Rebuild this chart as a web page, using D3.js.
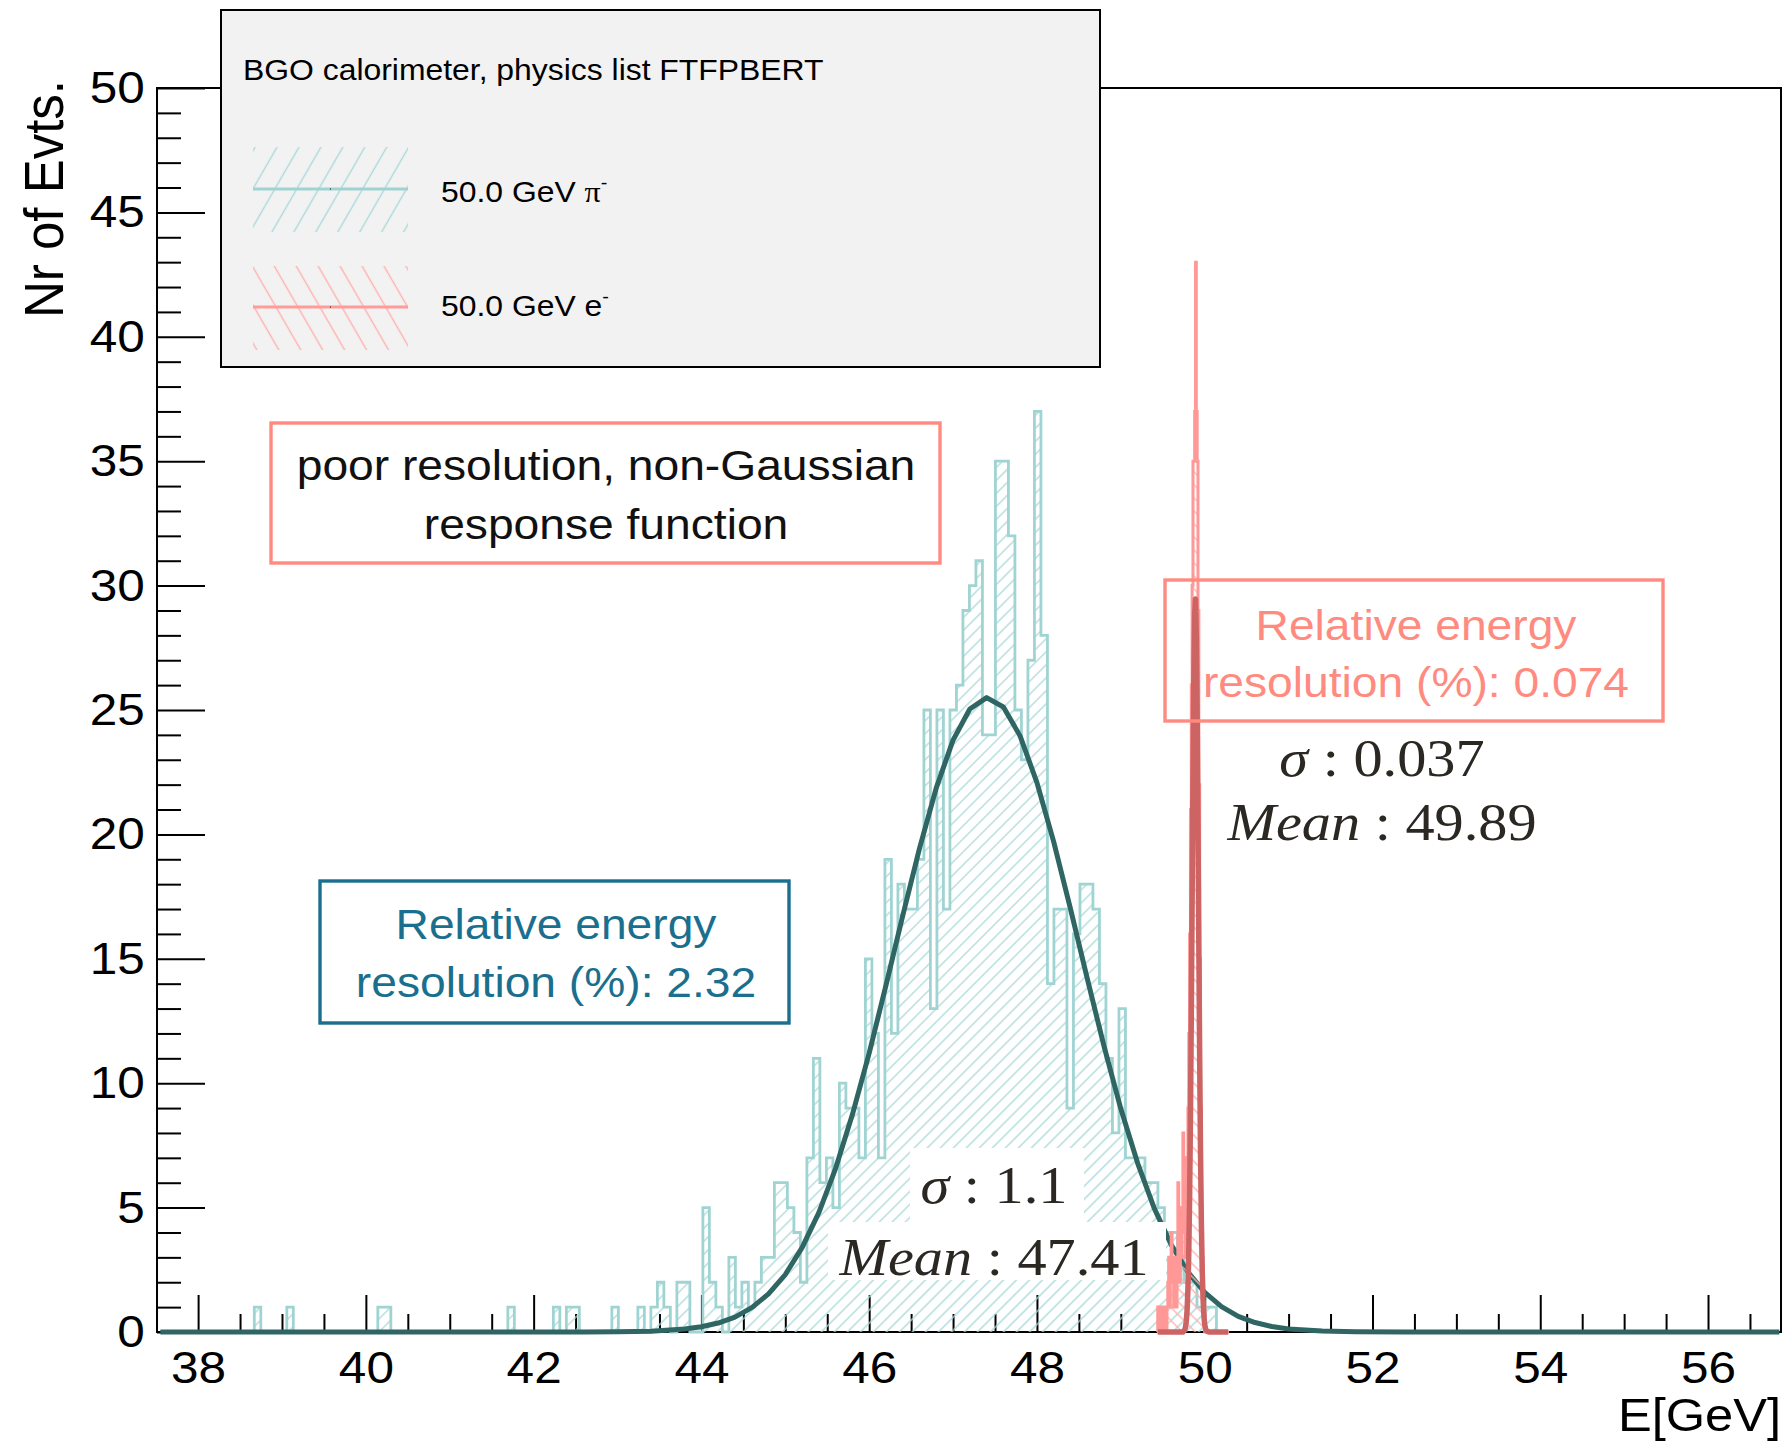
<!DOCTYPE html>
<html>
<head>
<meta charset="utf-8">
<script src="https://cdn.jsdelivr.net/npm/d3@7"></script>
<style>
  html, body { margin: 0; padding: 0; background: #fff; }
  svg { display: block; }
</style>
</head>
<body>
<svg id="chart" width="1788" height="1442" font-family="'Liberation Sans', Arial, Helvetica, sans-serif"></svg>
<script>
// pi- histogram, 0.0775 GeV bins starting at 38.67 GeV
const pionStart = 38.67;
const pionBinWidth = 0.0775;
const pionCounts = [
  1, 0, 0, 0, 0, 1, 0, 0, 0, 0,
  0, 0, 0, 0, 0, 0, 0, 0, 0, 1,
  1, 0, 0, 0, 0, 0, 0, 0, 0, 0,
  0, 0, 0, 0, 0, 0, 0, 0, 0, 1,
  0, 0, 0, 0, 0, 0, 1, 0, 1, 1,
  0, 0, 0, 0, 0, 1, 0, 0, 0, 1,
  0, 1, 2, 1, 0, 2, 2, 0, 0, 5,
  2, 1, 0, 3, 1, 2, 1, 2, 3, 3,
  6, 6, 5, 4, 2, 7, 11, 6, 7, 5,
  10, 9, 9, 7, 15, 12, 7, 19, 12, 18,
  17, 17, 19, 25, 13, 25, 17, 25, 26, 29,
  30, 31, 24, 24, 35, 35, 32, 25, 23, 27,
  37, 28, 14, 17, 17, 9, 16, 18, 18, 17,
  14, 11, 8, 13, 7, 7, 7, 6, 6, 5,
  4, 4, 3, 2, 2, 1, 1, 1
];

// e- histogram, 0.01 GeV bins starting at 49.44 GeV
const eleStart = 49.44;
const eleBinWidth = 0.01;
const eleCounts = [
  1, 0, 1, 1, 0, 1, 1, 0, 1, 1,
  0, 1, 2, 3, 1, 2, 4, 2, 3, 1,
  3, 2, 1, 3, 6, 4, 2, 5, 3, 4,
  8, 5, 6, 3, 7, 5, 9, 12, 16, 21,
  26, 30, 35, 35, 37, 43, 37, 35, 29, 22,
  15, 9, 5, 3, 1, 1, 0, 0, 0, 0,
  0, 0, 0, 0, 0, 0, 0, 0, 0, 0,
  0, 0, 0, 0, 0, 0, 0, 0, 0, 0,
  0, 0, 0, 0, 0
];

// fitted curves as drawn
const pionFitE = [37.55, 42.6, 43.0, 43.4, 43.8, 44.0, 44.2, 44.4, 44.6, 44.8,
  45.0, 45.2, 45.4, 45.6, 45.8, 46.0, 46.2, 46.4, 46.6, 46.8,
  47.0, 47.2, 47.4, 47.6, 47.8, 48.0, 48.2, 48.4, 48.6, 48.8,
  49.0, 49.2, 49.4, 49.6, 49.8, 50.0, 50.2, 50.4, 50.6, 50.8,
  51.0, 51.4, 51.8, 52.4, 56.85];
const pionFitN = [0, 0, 0.01, 0.03, 0.12, 0.21, 0.36, 0.60, 0.98, 1.53,
  2.31, 3.39, 4.80, 6.58, 8.74, 11.21, 13.93, 16.73, 19.44, 21.87,
  23.79, 25.04, 25.50, 25.12, 23.95, 22.08, 19.70, 17.01, 14.20, 11.48,
  8.97, 6.79, 4.96, 3.51, 2.41, 1.59, 1.02, 0.63, 0.38, 0.22,
  0.12, 0.04, 0.01, 0, 0];

const eleFitE = [49.44, 49.74, 49.76, 49.77, 49.78, 49.79, 49.80, 49.81, 49.82, 49.83,
  49.84, 49.85, 49.86, 49.87, 49.88, 49.89, 49.90, 49.91, 49.92, 49.93,
  49.94, 49.95, 49.96, 49.97, 49.98, 49.99, 50.00, 50.01, 50.02, 50.05, 50.28];
const eleFitN = [0, 0, 0.07, 0.18, 0.42, 0.88, 1.74, 3.20, 5.45, 8.63,
  12.72, 17.41, 22.15, 26.21, 28.82, 29.46, 27.99, 24.72, 20.30, 15.49,
  10.99, 7.25, 4.44, 2.53, 1.34, 0.66, 0.30, 0.13, 0.05, 0, 0];

const xMajor = [38, 40, 42, 44, 46, 48, 50, 52, 54, 56];
const xMinor = d3.range(38, 57, 0.5).filter(v => v % 2 !== 0);
const yMajor = [0, 5, 10, 15, 20, 25, 30, 35, 40, 45, 50];
const yMinor = d3.range(0, 51, 1).filter(v => v % 5 !== 0);

const SX = 1.1; // the picture is a bit wider than the fonts
const SERIF = "'Liberation Serif', 'Times New Roman', Times, serif";

const svg = d3.select("#chart");
const W = 1788, H = 1442;
const pLeft = 157, pRight = 1781, pTop = 88, pBottom = 1332;

const x = d3.scaleLinear().domain([37.51, 56.87]).range([pLeft, pRight]);
const y = d3.scaleLinear().domain([0, 50]).range([pBottom, pTop]);

svg.append("rect").attr("width", W).attr("height", H).attr("fill", "#fff");

const defs = svg.append("defs");
function hatch(id, color, gap, angle, sw) {
  const p = defs.append("pattern")
    .attr("id", id)
    .attr("patternUnits", "userSpaceOnUse")
    .attr("width", gap).attr("height", gap)
    .attr("patternTransform", `rotate(${angle})`);
  p.append("line")
    .attr("x1", gap / 2).attr("x2", gap / 2)
    .attr("y1", 0).attr("y2", gap)
    .attr("stroke", color).attr("stroke-width", sw);
}
hatch("hPion", "#a9d9d8", 9.2, 45, 1.3);
hatch("hEle", "#ffb0ae", 9.2, -45, 1.3);
hatch("hPionLeg", "#a9d9d8", 19, 30, 1.4);
hatch("hEleLeg", "#ffb0ae", 19, -30, 1.4);

function sx(sel, px, py) {
  return sel.attr("transform", `translate(${px},${py}) scale(${SX},1)`);
}

// ---- axes ----
const axG = svg.append("g");

const xMinorAx = d3.axisBottom(x).tickValues(xMinor).tickFormat("").tickSizeInner(-18).tickSizeOuter(0);
const xMajorAx = d3.axisBottom(x).tickValues(xMajor).tickFormat(d3.format("d")).tickSizeInner(-37).tickSizeOuter(0).tickPadding(19);
const yMinorAx = d3.axisLeft(y).tickValues(yMinor).tickFormat("").tickSizeInner(-24).tickSizeOuter(0);
const yMajorAx = d3.axisLeft(y).tickValues(yMajor).tickFormat(d3.format("d")).tickSizeInner(-48).tickSizeOuter(0).tickPadding(11);

[xMinorAx, xMajorAx].forEach(a => {
  axG.append("g").attr("transform", `translate(0,${pBottom})`).call(a);
});
[yMinorAx, yMajorAx].forEach(a => {
  axG.append("g").attr("transform", `translate(${pLeft},0)`).call(a);
});
axG.selectAll(".domain").remove();
axG.selectAll("g").attr("font-family", null);
axG.selectAll(".tick line").attr("stroke", "#000").attr("stroke-width", 2);
axG.selectAll(".tick text")
  .attr("font-size", 45)
  .attr("fill", "#000")
  .attr("transform", `scale(${SX},1)`);

axG.append("rect")
  .attr("x", pLeft).attr("y", pTop)
  .attr("width", pRight - pLeft).attr("height", pBottom - pTop)
  .attr("fill", "none").attr("stroke", "#000").attr("stroke-width", 2);

// axis titles
sx(axG.append("text"), pRight, 1431)
  .attr("text-anchor", "end").attr("font-size", 46).text("E[GeV]");
axG.append("text")
  .attr("transform", `translate(63,80) scale(${SX},1) rotate(-90)`)
  .attr("text-anchor", "end").attr("font-size", 51).text("Nr of Evts.");

// ---- histograms ----
function histPoints(start, w, counts) {
  const pts = [[start, 0]];
  counts.forEach((c, i) => pts.push([start + i * w, c]));
  const end = start + counts.length * w;
  pts.push([end, counts[counts.length - 1]]);
  pts.push([end, 0]);
  return pts;
}
const stepLine = d3.line().x(d => x(d[0])).y(d => y(d[1])).curve(d3.curveStepAfter);
const stepArea = d3.area().x(d => x(d[0])).y0(y(0)).y1(d => y(d[1])).curve(d3.curveStepAfter);
const fitLine = d3.line().x(d => x(d[0])).y(d => y(d[1]));

const pionPts = histPoints(pionStart, pionBinWidth, pionCounts);
const elePts = histPoints(eleStart, eleBinWidth, eleCounts);

const plot = svg.append("g");
plot.append("path").attr("d", stepArea(pionPts)).attr("fill", "url(#hPion)");
plot.append("path").attr("d", stepLine(pionPts))
  .attr("fill", "none").attr("stroke", "#a0d4d3").attr("stroke-width", 2.8);
plot.append("path").attr("d", fitLine(pionFitE.map((e, i) => [e, pionFitN[i]])))
  .attr("fill", "none").attr("stroke", "#2f6663").attr("stroke-width", 5)
  .attr("stroke-linejoin", "round");

plot.append("path").attr("d", stepArea(elePts)).attr("fill", "url(#hEle)");
plot.append("path").attr("d", stepLine(elePts))
  .attr("fill", "none").attr("stroke", "#ff9896").attr("stroke-width", 3);
plot.append("path").attr("d", fitLine(eleFitE.map((e, i) => [e, eleFitN[i]])))
  .attr("fill", "none").attr("stroke", "#cd6464").attr("stroke-width", 5.5)
  .attr("stroke-linejoin", "round");

// ---- fit results pasted on top ----
const res = svg.append("g");
res.append("rect").attr("x", 910).attr("y", 1148).attr("width", 174).attr("height", 74).attr("fill", "#fff");
res.append("rect").attr("x", 828).attr("y", 1222).attr("width", 338).attr("height", 58).attr("fill", "#fff");

function fitText(cx, by, name, val) {
  const t = sx(res.append("text"), cx, by)
    .attr("text-anchor", "middle")
    .attr("font-family", SERIF)
    .attr("font-size", 53)
    .attr("fill", "#2b2723");
  t.append("tspan").attr("font-style", "italic").text(name);
  t.append("tspan").text(" : " + val);
}
fitText(994, 1203, "σ", "1.1");
fitText(994, 1275, "Mean", "47.41");
fitText(1382, 776, "σ", "0.037");
fitText(1382, 840, "Mean", "49.89");

// ---- annotation boxes ----
const notes = svg.append("g").attr("font-size", 42);
function note(x0, y0, x1, y1, color, textColor, lines, cx, baselines) {
  notes.append("rect").attr("x", x0).attr("y", y0)
    .attr("width", x1 - x0).attr("height", y1 - y0)
    .attr("fill", "none").attr("stroke", color).attr("stroke-width", 3.4);
  lines.forEach((s, i) => {
    sx(notes.append("text"), cx, baselines[i])
      .attr("text-anchor", "middle").attr("fill", textColor).text(s);
  });
}
note(271, 423, 940, 563, "#ff8b80", "#111",
  ["poor resolution, non-Gaussian", "response function"], 606, [480, 539]);
note(320, 881, 789, 1023, "#1b6f8e", "#1b6f8e",
  ["Relative energy", "resolution (%): 2.32"], 556, [939, 997]);
note(1165, 580, 1663, 721, "#ff8b80", "#ff8b80",
  ["Relative energy", "resolution (%): 0.074"], 1416, [640, 697]);

// ---- legend ----
const leg = svg.append("g");
leg.append("rect").attr("x", 221).attr("y", 10).attr("width", 879).attr("height", 357)
  .attr("fill", "#f2f2f2").attr("stroke", "#000").attr("stroke-width", 2);
sx(leg.append("text"), 243, 80).attr("font-size", 29).text("BGO calorimeter, physics list FTFPBERT");

const legendEntries = [
  { fill: "url(#hPionLeg)", color: "#9fd3d2", y0: 147, y1: 232, ly: 189, ty: 202, name: "π" },
  { fill: "url(#hEleLeg)", color: "#ff9b98", y0: 266, y1: 350, ly: 307, ty: 316, name: "e" }
];
legendEntries.forEach(e => {
  leg.append("rect").attr("x", 253).attr("y", e.y0).attr("width", 155).attr("height", e.y1 - e.y0)
    .attr("fill", e.fill);
  leg.append("line").attr("x1", 253).attr("x2", 408).attr("y1", e.ly).attr("y2", e.ly)
    .attr("stroke", e.color).attr("stroke-width", 3);
  leg.append("rect").attr("x", 330).attr("y", e.ly - 0.5).attr("width", 1).attr("height", 1).attr("fill", "#000");
  const t = sx(leg.append("text"), 441, e.ty).attr("font-size", 29);
  t.append("tspan").text("50.0 GeV ");
  const s = t.append("tspan").text(e.name);
  if (e.name === "π") s.attr("font-family", SERIF);
  t.append("tspan").attr("font-size", 18).attr("dy", -13).text("-");
});
</script>
</body>
</html>
